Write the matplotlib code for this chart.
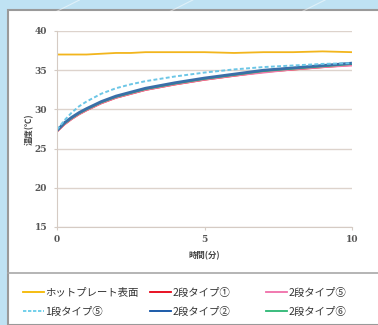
import matplotlib
matplotlib.use("Agg")
import matplotlib.pyplot as plt
from matplotlib.patches import Rectangle
from matplotlib.lines import Line2D

plt.rcParams['font.family'] = ['Noto Sans CJK JP', 'DejaVu Sans']

t = [0, 0.25, 0.5, 0.75, 1, 1.5, 2, 2.5, 3, 4, 5, 6, 7, 8, 9, 10]
hotplate = [37.0, 37.0, 37.0, 37.0, 37.0, 37.1, 37.2, 37.2, 37.3, 37.3, 37.3, 37.2, 37.3, 37.3, 37.4, 37.3]
type1_5 = [27.4, 28.6, 29.6, 30.4, 31.0, 32.0, 32.7, 33.2, 33.6, 34.2, 34.7, 35.1, 35.4, 35.6, 35.8, 35.9]
type2_1 = [27.2, 28.1, 28.8, 29.4, 29.9, 30.8, 31.5, 32.0, 32.5, 33.2, 33.8, 34.3, 34.8, 35.1, 35.4, 35.7]
type2_5 = [27.2, 28.1, 28.8, 29.4, 29.9, 30.8, 31.5, 32.0, 32.5, 33.2, 33.8, 34.3, 34.7, 35.1, 35.4, 35.6]
type2_6 = [27.3, 28.2, 28.9, 29.5, 30.0, 30.9, 31.6, 32.1, 32.6, 33.3, 33.9, 34.4, 34.9, 35.2, 35.5, 35.8]
type2_2 = [27.3, 28.3, 29.0, 29.6, 30.1, 31.0, 31.7, 32.2, 32.7, 33.4, 34.0, 34.5, 35.0, 35.3, 35.6, 35.9]

yticks = [15, 20, 25, 30, 35, 40]
xticks = [0, 5, 10]

W, H = 378, 325
fig = plt.figure(figsize=(W / 100, H / 100), dpi=100)
fig.patch.set_facecolor('#BFE2F3')

# decorative diagonal lines in background
for x0 in [0.15, 0.45, 0.8]:
    fig.add_artist(Line2D([x0, x0 + 0.06], [0.965, 1.0], transform=fig.transFigure,
                          color='white', lw=0.8, alpha=0.5))

# white panel
fig.add_artist(Rectangle((8 / W, 0), 1.0, 1 - 10 / H, transform=fig.transFigure,
                         facecolor='white', edgecolor='#9A9A9A', lw=1.5, zorder=0))
# separator line above legend
fig.add_artist(Line2D([8 / W, 1.0], [1 - 273 / H, 1 - 273 / H], transform=fig.transFigure,
                      color='#A8A8A8', lw=1.2))

ax = fig.add_axes([57 / W, 1 - 227 / H, (352 - 57) / W, (227 - 31) / H])
ax.set_facecolor('none')
ax.set_xlim(0, 10)
ax.set_ylim(15, 40)
ax.set_yticks(yticks)
ax.set_xticks(xticks)
ax.grid(axis='y', color='#DDD3CC', lw=1.0)
ax.set_axisbelow(True)
for s in ['top', 'right']:
    ax.spines[s].set_visible(False)
ax.spines['left'].set_color('#D5CBC4')
ax.spines['bottom'].set_color('#D5CBC4')
ax.tick_params(axis='both', length=2, color='#D5CBC4', labelsize=6.5, labelcolor='#555555')
ax.tick_params(axis='y', pad=5)
ax.tick_params(axis='x', pad=4)
for lab in ax.get_xticklabels() + ax.get_yticklabels():
    lab.set_family('DejaVu Serif')
    lab.set_fontweight('bold')

ax.plot(t, hotplate, color='#F2B51C', lw=1.3)
ax.plot(t, type2_1, color='#E8262A', lw=1.6)
ax.plot(t, type2_5, color='#F07AAA', lw=1.4)
ax.plot(t, type2_6, color='#2DB56A', lw=1.4)
ax.plot(t, type2_2, color='#3A6FA8', lw=2.0)
ax.plot(t, type1_5, color='#6CC6E6', lw=1.4, ls=(0, (2, 1.2)))

ax.set_xlabel('時間(分)', fontsize=6, color='#444444', fontweight='bold', labelpad=5)
ax.set_ylabel('温度(℃)', fontsize=6, color='#444444', fontweight='bold', labelpad=0.5)

# legend handles (legend colours)
h_hot = Line2D([], [], color='#F5B800', lw=1.3)
h_d = Line2D([], [], color='#5BC8E8', lw=1.2, ls=(0, (2, 1)))
h_r = Line2D([], [], color='#E60012', lw=1.3)
h_b = Line2D([], [], color='#0B4EA2', lw=1.3)
h_p = Line2D([], [], color='#F06EA9', lw=1.3)
h_g = Line2D([], [], color='#2BB673', lw=1.3)

cols = [((h_hot, h_d), ('ホットプレート表面', '1段タイプ⑤'), 23),
        ((h_r, h_b), ('2段タイプ①', '2段タイプ②'), 150),
        ((h_p, h_g), ('2段タイプ⑤', '2段タイプ⑥'), 266)]
for hs, ls, xpx in cols:
    leg = fig.legend(hs, ls, loc='upper left', bbox_to_anchor=(xpx / W, 1 - 288 / H),
                     frameon=False, fontsize=7.5, handlelength=2.0, handletextpad=0.15,
                     labelspacing=0.85, borderpad=0, borderaxespad=0)
    for txt in leg.get_texts():
        txt.set_color('#333333')

fig.savefig('out.png', dpi=100, facecolor=fig.get_facecolor())
